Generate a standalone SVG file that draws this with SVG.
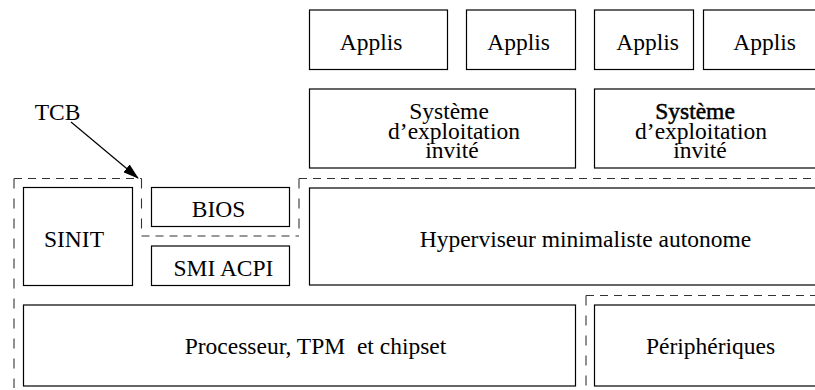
<svg xmlns="http://www.w3.org/2000/svg" width="815" height="390" viewBox="0 0 815 390">
<style>
.box{fill:#fff;stroke:#000;stroke-width:1.2}
.t{font-family:"Liberation Serif","Times New Roman",serif;font-size:23.5px;fill:#000;text-anchor:middle;white-space:pre}
.dh{fill:none;stroke:#333;stroke-width:1.1;stroke-dasharray:8 6}
.dv{fill:none;stroke:#333;stroke-width:1.1;stroke-dasharray:10 10}
</style>
<defs>
<marker id="ah" markerWidth="16" markerHeight="10" refX="15" refY="5" orient="auto" markerUnits="userSpaceOnUse">
<path d="M0,0 L16,5 L0,10 Z" fill="#000"/>
</marker>
</defs>
<rect width="815" height="390" fill="#fff"/>
<g id="applis1"><rect class="box" x="309.5" y="10" width="138" height="59.5"/><text class="t" x="371" y="50">Applis</text></g>
<g id="applis2"><rect class="box" x="466.5" y="10" width="109" height="59.5"/><text class="t" x="518.5" y="50">Applis</text></g>
<g id="applis3"><rect class="box" x="594.5" y="10" width="99" height="59.5"/><text class="t" x="647.5" y="50">Applis</text></g>
<g id="applis4"><rect class="box" x="703.5" y="10" width="130" height="59.5"/><text class="t" x="764.5" y="50">Applis</text></g>
<g id="os1"><rect class="box" x="309.5" y="89" width="266" height="79"/>
<text class="t" x="449" y="118.5">Système</text>
<text class="t" x="454" y="138.5">d’exploitation</text>
<text class="t" x="452" y="157.5">invité</text></g>
<g id="os2"><rect class="box" x="594.5" y="89" width="240" height="79"/>
<text class="t" x="695" y="118.5" style="stroke:#000;stroke-width:0.5">Système</text>
<text class="t" x="701" y="138.5">d’exploitation</text>
<text class="t" x="700" y="157.5">invité</text></g>
<g id="hyperviseur"><rect class="box" x="309.5" y="188" width="525" height="97"/><text class="t" x="585.5" y="247">Hyperviseur minimaliste autonome</text></g>
<g id="sinit"><rect class="box" x="23.5" y="187.5" width="109" height="98"/><text class="t" x="74" y="246.5">SINIT</text></g>
<g id="bios"><rect class="box" x="151.5" y="187.5" width="138" height="39"/><text class="t" x="218.5" y="216.5">BIOS</text></g>
<g id="smiacpi"><rect class="box" x="151.5" y="246" width="138" height="39.5"/><text class="t" x="223.5" y="276">SMI ACPI</text></g>
<g id="processeur"><rect class="box" x="23.5" y="305" width="552" height="81"/><text class="t" x="315.5" y="354">Processeur, TPM  et chipset</text></g>
<g id="peripheriques"><rect class="box" x="594.5" y="305" width="240" height="81"/><text class="t" x="710.5" y="354">Périphériques</text></g>
<g id="tcb">
<text class="t" x="57.5" y="119.5">TCB</text>
<path class="dh" d="M14,178.5 H141.5 M141.5,236 H299 M299,178.5 H815 M586,295.5 H815"/>
<path class="dv" d="M14,178.5 V388 M141.5,178.5 V236 M299,178.5 V236 M586,295.5 V390"/>
</g>
<g id="connectors">
<line x1="71" y1="122" x2="138" y2="178" stroke="#000" stroke-width="1.2" marker-end="url(#ah)"/>
</g>
</svg>
